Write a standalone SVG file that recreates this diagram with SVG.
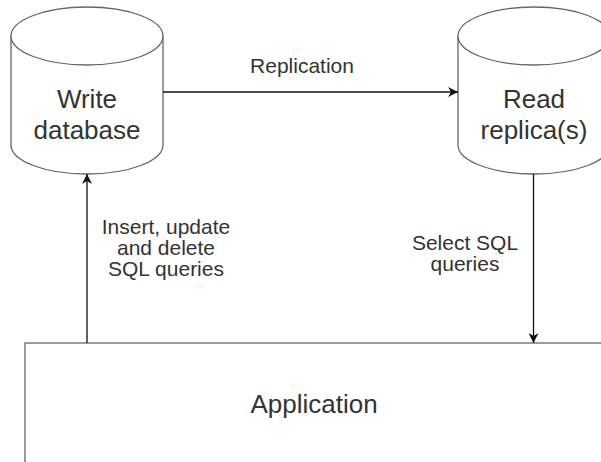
<svg xmlns="http://www.w3.org/2000/svg" width="601" height="462" viewBox="0 0 601 462">
<defs>
<style>
.shape{fill:#fff;stroke:#666;stroke-width:1.3}
.edge{fill:none;stroke:#111;stroke-width:1.3}
.lbl{font-family:"Liberation Sans",Arial,sans-serif;fill:#333;text-anchor:middle}
.big{font-size:26px}
.small{font-size:21px}
</style>
<marker id="arr" viewBox="0 0 10 10" refX="10" refY="5" markerWidth="10" markerHeight="10" markerUnits="userSpaceOnUse" orient="auto">
<path d="M0,0 L10,5 L0,10 L3,5 Z" fill="#111"/>
</marker>
</defs>
<rect width="601" height="462" fill="#fff"/>
<g id="application">
<rect class="shape" x="25" y="343" width="600" height="140"/>
<text class="lbl big" x="314" y="413">Application</text>
</g>
<g id="write-db">
<path class="shape" d="M11,36 A76,29 0 0 1 163,36 L163,145 A76,29 0 0 1 11,145 Z"/>
<path class="shape" fill="none" d="M11,36 A76,29 0 0 0 163,36"/>
<text class="lbl big" x="87" y="108">Write</text>
<text class="lbl big" x="87" y="139">database</text>
</g>
<g id="read-replica">
<path class="shape" d="M458,36 A76,29 0 0 1 610,36 L610,145 A76,29 0 0 1 458,145 Z"/>
<path class="shape" fill="none" d="M458,36 A76,29 0 0 0 610,36"/>
<text class="lbl big" x="534" y="108">Read</text>
<text class="lbl big" x="534" y="139">replica(s)</text>
</g>
<g id="connectors">
<line class="edge" x1="163" y1="92" x2="458" y2="92" marker-end="url(#arr)"/>
<line class="edge" x1="87" y1="343" x2="87" y2="174" marker-end="url(#arr)"/>
<line class="edge" x1="533.5" y1="174" x2="533.5" y2="343" marker-end="url(#arr)"/>
<text class="lbl small" x="302" y="73">Replication</text>
<text class="lbl small" x="166" y="234">Insert, update</text>
<text class="lbl small" x="166" y="255">and delete</text>
<text class="lbl small" x="166" y="276">SQL queries</text>
<text class="lbl small" x="465" y="250">Select SQL</text>
<text class="lbl small" x="465" y="271">queries</text>
</g>
</svg>
